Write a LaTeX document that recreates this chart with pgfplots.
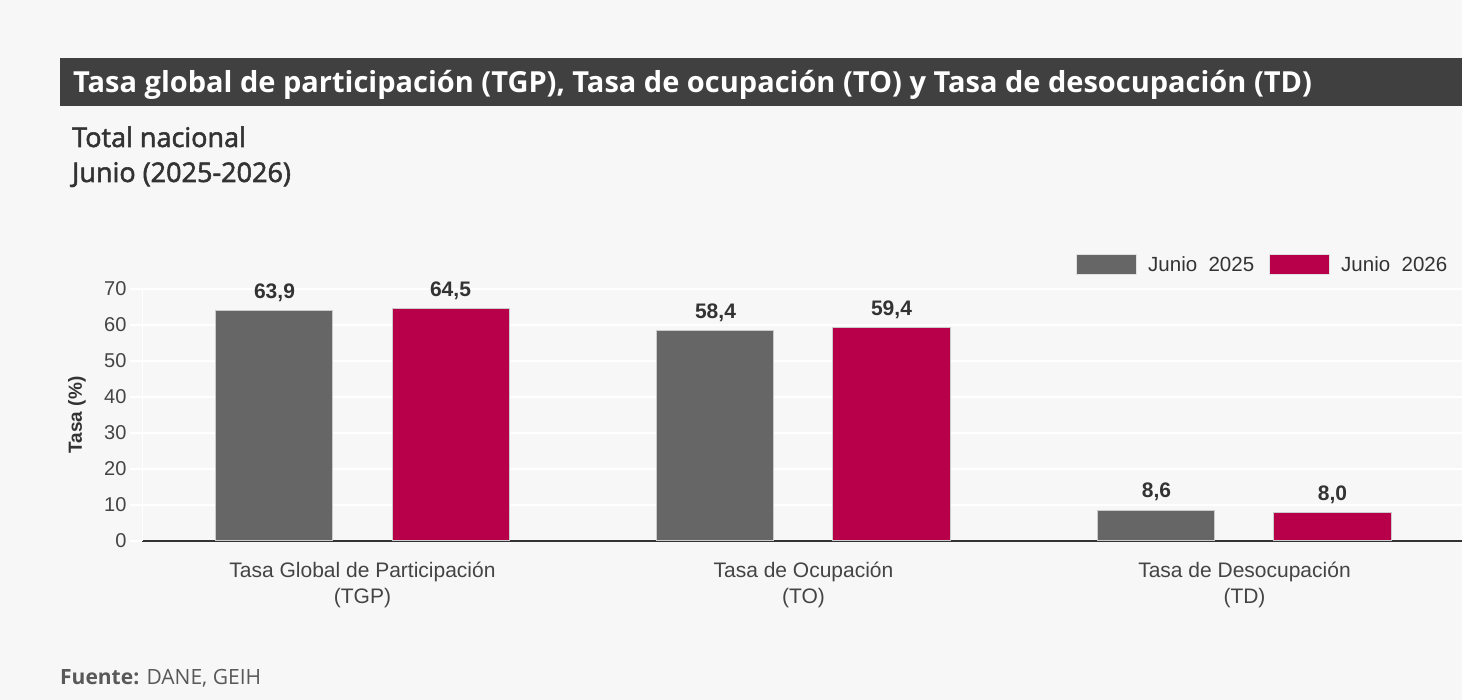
\documentclass[border=0pt]{standalone}
\usepackage{fontspec}
\setmainfont{Liberation Sans}
\newfontfamily\opensans{Open Sans}
\newfontfamily\opensemi{Open Sans}[FakeBold=2]
\usepackage{pgfplots}
\pgfplotsset{compat=1.18}
\definecolor{bg}{HTML}{F7F7F7}
\definecolor{titlebg}{HTML}{404040}
\definecolor{g25}{HTML}{666666}
\definecolor{r26}{HTML}{B8004A}
\definecolor{txt}{HTML}{333333}
\definecolor{tick}{HTML}{444444}
\begin{document}
\begin{tikzpicture}[x=1pt,y=1pt]
\useasboundingbox (0,0) rectangle (1462,700);
\clip (0,0) rectangle (1462,700);
\fill[bg] (0,0) rectangle (1462,700);
\fill[titlebg] (60,594) rectangle (1470,642);
\node[anchor=base west, inner sep=0pt, text=white, font=\opensans\bfseries\fontsize{29}{29}\selectfont] at (73,607) {Tasa global de participación (TGP), Tasa de ocupación (TO) y Tasa de desocupación (TD)};
\node[anchor=base west, inner sep=0pt, text=txt, font=\opensemi\fontsize{27}{27}\selectfont] at (72,553) {Total nacional};
\node[anchor=base west, inner sep=0pt, text=txt, font=\opensemi\fontsize{27}{27}\selectfont] at (72,518) {Junio (2025-2026)};
\node[anchor=base west, inner sep=0pt, text=black!65, font=\opensans\fontsize{21}{21}\selectfont] at (60,15) {{\bfseries Fuente:} DANE, GEIH};
\begin{axis}[
  at={(142pt,159pt)}, anchor=south west,
  scale only axis, width=1323pt, height=252pt,
  xmin=-0.5, xmax=2.5, ymin=0, ymax=70,
  ybar=59pt, bar width=117pt,
  xtick={0,1,2},
  xticklabels={{Tasa Global de Participación\\(TGP)},{Tasa de Ocupación\\(TO)},{Tasa de Desocupación\\(TD)}},
  ytick={10,20,...,70},
  extra y ticks={0},
  extra y tick style={tick style={txt, line width=1pt}, grid=none},
  ymajorgrids,
  grid style={white, line width=1.5pt},
  axis x line=bottom, axis y line=left,
  x axis line style={txt, line width=1.5pt, -},
  y axis line style={white, line width=1pt, -},
  xtick style={draw=none},
  ytick style={white, line width=1.5pt},
  tick align=outside,
  major tick length=12pt,
  /pgf/number format/assume math mode=true,
  /pgf/number format/.cd, fixed, fixed zerofill, precision=1, use comma, /pgfplots/.cd,
  yticklabel style={text=tick, font=\fontsize{20}{20}\selectfont, /pgf/number format/precision=0, /pgf/number format/fixed zerofill=false},
  xticklabel style={text=tick, font=\fontsize{21}{26}\selectfont, align=center, yshift=-6pt},
  ylabel={Tasa (\%)},
  ylabel style={at={(axis description cs:-0.0491,0.5)}, anchor=center, font=\bfseries\fontsize{19}{19}\selectfont, text=txt},
  nodes near coords,
  every node near coord/.append style={font=\bfseries\fontsize{21}{21}\selectfont, text=txt, yshift=5pt},
  legend columns=2,
  legend image code/.code={\draw[#1, draw=black!12, line width=1pt] (0pt,-10pt) rectangle (60pt,10pt); \path (69pt,0pt);},
  legend style={at={(axis description cs:0.706,1.139)}, anchor=north west, draw=none, fill=none, inner sep=0pt, font=\fontsize{20.5}{20.5}\selectfont, text=txt, /tikz/every even column/.append style={column sep=13pt}},
]
\addplot[fill=g25, draw=black!20, line width=1pt] coordinates {(0,63.9) (1,58.4) (2,8.6)};
\addplot[fill=r26, draw=black!20, line width=1pt] coordinates {(0,64.5) (1,59.4) (2,8.0)};
\legend{Junio\ \ 2025, Junio\ \ 2026}
\end{axis}
\end{tikzpicture}
\end{document}
